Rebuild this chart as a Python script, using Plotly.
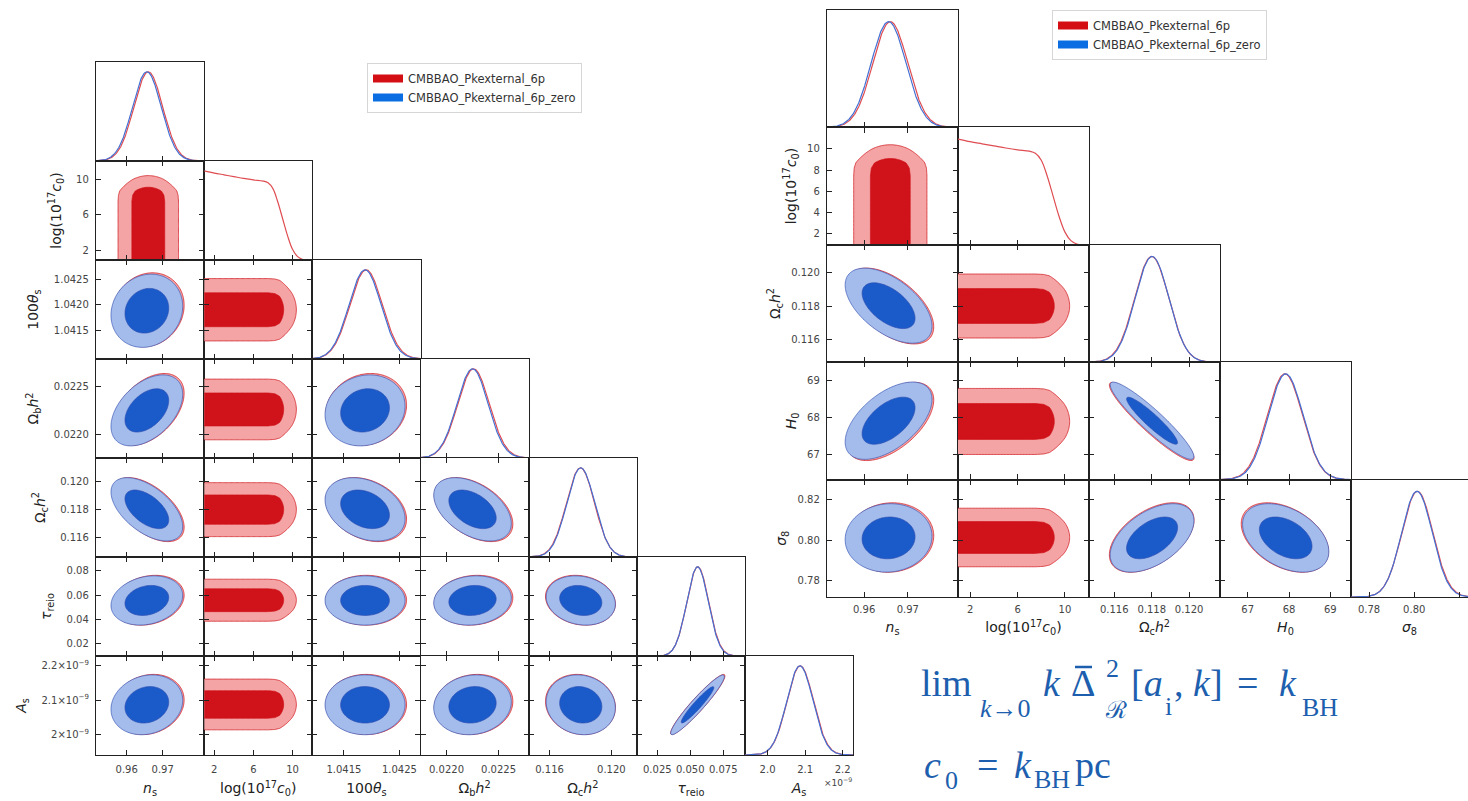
import numpy as np
import plotly.graph_objects as go

W, H = 1468, 801

# ---------------- data ----------------
PARAMS = ["ns", "c0", "theta", "ombh2", "omch2", "tau", "As", "H0", "sigma8"]

# posterior means / standard deviations, "CMBBAO_Pkexternal_6p_zero" (blue)
MEAN_ZERO = [0.9656, None, 1.04188, 0.02225, 0.11802, 0.0555, 2.086, 67.92, 0.8012]
SIGMA_ZERO = [0.0040, None, 0.00029, 0.00015, 0.00090, 0.0082, 0.035, 0.42, 0.0068]
# posterior means / standard deviations, "CMBBAO_Pkexternal_6p" (red)
MEAN_6P = [0.9660, None, 1.04190, 0.02226, 0.11800, 0.0557, 2.087, 67.90, 0.8014]
SIGMA_6P = [0.0040, None, 0.000293, 0.000152, 0.00091, 0.0083, 0.0352, 0.425, 0.0069]

# pairwise correlation coefficients (read from the tilt of the ellipses)
CORR_A = ["ns", "ns", "ns", "ns", "ns", "ns", "ns", "theta", "theta", "theta", "theta",
          "ombh2", "ombh2", "ombh2", "omch2", "omch2", "tau", "omch2", "omch2", "H0"]
CORR_B = ["theta", "ombh2", "omch2", "tau", "As", "H0", "sigma8", "ombh2", "omch2", "tau", "As",
          "omch2", "tau", "As", "tau", "As", "As", "H0", "sigma8", "sigma8"]
CORR_R = [0.12, 0.45, -0.55, 0.2, 0.15, 0.55, 0.05, 0.12, -0.3, 0.0, 0.0,
          -0.45, 0.1, 0.1, -0.15, -0.1, 0.95, -0.93, 0.5, -0.4]

# 1D posterior of log(10^17 c0) (red only)
C0_POINTS = [0.97, 2.0, 3.0, 4.0, 5.0, 6.0, 7.0, 7.5, 8.0, 8.5, 9.0, 9.5, 10.0, 10.5, 11.0, 11.5, 12.03]
C0_DENSITY = [1.0, 0.975, 0.955, 0.935, 0.915, 0.898, 0.885, 0.865, 0.80, 0.65, 0.46, 0.27, 0.12, 0.04,
              0.008, 0.0, 0.0]
# delta-chi2 profile along log(10^17 c0) that shapes the red 2D contours
C0_PEN_POINTS = [0.0, 7.5, 8.2, 8.7, 9.1, 9.6, 10.0, 10.4, 11.0, 12.1]
C0_PEN_VALUES = [0.0, 0.0, 0.12, 0.5, 1.3, 2.4, 3.3, 4.4, 6.5, 11.0]

LEGEND_NAMES = ["CMBBAO_Pkexternal_6p", "CMBBAO_Pkexternal_6p_zero"]

LEFT_PARAMS = ["ns", "c0", "theta", "ombh2", "omch2", "tau", "As"]
RIGHT_PARAMS = ["ns", "c0", "omch2", "H0", "sigma8"]

LABELS = {
    "ns": "<i>n</i><sub>s</sub>",
    "c0": "log(10<sup>17</sup><i>c</i><sub>0</sub>)",
    "theta": "100<i>θ</i><sub>s</sub>",
    "ombh2": "Ω<sub>b</sub><i>h</i><sup>2</sup>",
    "omch2": "Ω<sub>c</sub><i>h</i><sup>2</sup>",
    "tau": "<i>τ</i><sub>reio</sub>",
    "As": "<i>A</i><sub>s</sub>",
    "H0": "<i>H</i><sub>0</sub>",
    "sigma8": "<i>σ</i><sub>8</sub>",
}

LEFT_XTICKS = {
    "ns": [0.96, 0.97], "c0": [2, 6, 10], "theta": [1.0415, 1.0425],
    "ombh2": [0.0220, 0.0225], "omch2": [0.116, 0.120], "tau": [0.025, 0.050, 0.075],
    "As": [2.0, 2.1, 2.2],
}
LEFT_XTEXT = {
    "ns": ["0.96", "0.97"], "c0": ["2", "6", "10"], "theta": ["1.0415", "1.0425"],
    "ombh2": ["0.0220", "0.0225"], "omch2": ["0.116", "0.120"], "tau": ["0.025", "0.050", "0.075"],
    "As": ["2.0", "2.1", "2.2"],
}
LEFT_YTICKS = {
    "c0": [2, 6, 10], "theta": [1.0415, 1.0420, 1.0425], "ombh2": [0.0220, 0.0225],
    "omch2": [0.116, 0.118, 0.120], "tau": [0.02, 0.04, 0.06, 0.08], "As": [2.0, 2.1, 2.2],
}
LEFT_YTEXT = {
    "c0": ["2", "6", "10"], "theta": ["1.0415", "1.0420", "1.0425"], "ombh2": ["0.0220", "0.0225"],
    "omch2": ["0.116", "0.118", "0.120"], "tau": ["0.02", "0.04", "0.06", "0.08"],
    "As": ["2×10<sup>−9</sup>", "2.1×10<sup>−9</sup>", "2.2×10<sup>−9</sup>"],
}
RIGHT_XTICKS = {
    "ns": [0.96, 0.97], "c0": [2, 6, 10], "omch2": [0.116, 0.118, 0.120],
    "H0": [67, 68, 69], "sigma8": [0.78, 0.80, 0.82],
}
RIGHT_XTEXT = {
    "ns": ["0.96", "0.97"], "c0": ["2", "6", "10"], "omch2": ["0.116", "0.118", "0.120"],
    "H0": ["67", "68", "69"], "sigma8": ["0.78", "0.80", "0.82"],
}
RIGHT_YTICKS = {
    "c0": [2, 4, 6, 8, 10], "omch2": [0.116, 0.118, 0.120], "H0": [67, 68, 69],
    "sigma8": [0.78, 0.80, 0.82],
}
RIGHT_YTEXT = {
    "c0": ["2", "4", "6", "8", "10"], "omch2": ["0.116", "0.118", "0.120"], "H0": ["67", "68", "69"],
    "sigma8": ["0.78", "0.80", "0.82"],
}

# equation pieces (text only; placement below)
EQ1_TEXT = ["lim", "<i>k</i>→0", "<i>k</i>", "Δ", "2", "ℛ", "[<i>a</i>", "i", ", <i>k</i>]", "=",
            "<i>k</i>", "BH"]
EQ2_TEXT = ["<i>c</i>", "0", "=", "<i>k</i>", "BH", "pc"]

# ---------------- layout / style ----------------
RANGES = {
    "ns": [0.9515, 0.9815], "c0": [0.97, 12.03], "theta": [1.04093, 1.04288],
    "ombh2": [0.02175, 0.02279], "omch2": [0.11465, 0.12165], "tau": [0.0095, 0.0915],
    "As": [1.940, 2.228], "H0": [66.33, 69.50], "sigma8": [0.772, 0.830],
}
GAUSS_LEVELS = (2.30, 6.18)
C0_LEVELS = (1.3, 4.4)

RED_DARK, RED_LIGHT, RED_LINE = "#d0121a", "#f4a4a4", "#df4d52"
BLUE_DARK, BLUE_LIGHT, BLUE_LINE = "#1b5bc9", "#a3bcec", "#4470d4"
LEG_RED, LEG_BLUE = "#d40f14", "#0a6ee2"
AX_COLOR = "#222222"
TICK_FONT = dict(family="DejaVu Sans", size=10, color="#444444")
TITLE_FONT = dict(family="DejaVu Sans", size=14, color="#222222")
MATH_COLOR = "#1d5fae"

idx = {p: i for i, p in enumerate(PARAMS)}
corr = {}
for a, b, r in zip(CORR_A, CORR_B, CORR_R):
    corr[(a, b)] = r
    corr[(b, a)] = r

DATASETS = [
    dict(mean=MEAN_6P, sigma=SIGMA_6P, has_c0=True, dark=RED_DARK, light=RED_LIGHT, line=RED_LINE, edge=RED_DARK),
    dict(mean=MEAN_ZERO, sigma=SIGMA_ZERO, has_c0=False, dark=BLUE_DARK, light=BLUE_LIGHT, line=BLUE_LINE,
         edge="rgba(45,75,175,0.9)"),
]

fig = go.Figure()
counter = {"n": 0}

BASE_AX = dict(showline=True, linecolor=AX_COLOR, linewidth=1.3, ticks="inside", ticklen=5,
               tickwidth=1.1, tickcolor=AX_COLOR, showgrid=False, zeroline=False,
               tickfont=TICK_FONT, autorange=False, fixedrange=True)


def add_panel(xdom, ydom, xr, yr, diag, xt, xtt, yt, ytt, show_xl, show_yl, xtitle, ytitle, st):
    counter["n"] += 1
    n = counter["n"]
    s = "" if n == 1 else str(n)
    xa = dict(BASE_AX, domain=xdom, anchor="y" + s, range=xr, mirror=(True if diag else "ticks"),
              tickvals=xt, ticktext=xtt, showticklabels=show_xl, ticklabelstandoff=st["xl"])
    if xtitle:
        xa["title"] = dict(text=xtitle, font=TITLE_FONT, standoff=st["xt"])
    ya = dict(BASE_AX, domain=ydom, anchor="x" + s, range=yr, mirror=(True if diag else "ticks"),
              ticklabelstandoff=st["yl"])
    if diag or yt is None:
        ya.update(ticks="", tickvals=[], showticklabels=False)
    else:
        ya.update(tickvals=yt, ticktext=ytt, showticklabels=show_yl)
    if ytitle:
        ya["title"] = dict(text=ytitle, font=TITLE_FONT, standoff=st["yt"])
    fig.update_layout({"xaxis" + s: xa, "yaxis" + s: ya})
    return "x" + s, "y" + s


def add_contour(xa, ya, xs, ys, chi2, levels, ds):
    l1, l2 = levels
    fig.add_trace(go.Contour(
        x=xs, y=ys, z=np.round(-chi2, 4), xaxis=xa, yaxis=ya, autocontour=False,
        contours=dict(start=-l2, end=-l1, size=l2 - l1, coloring="fill", showlines=True),
        colorscale=[[0, "rgba(255,255,255,0)"], [0.5, ds["light"]], [1, ds["dark"]]],
        line=dict(color=ds["edge"], width=0.7, smoothing=1.0),
        showscale=False, hoverinfo="skip", showlegend=False))


def build_triangle(plist, x0, cw, y0, rh, xticks, xtext, yticks, ytext, st):
    n = len(plist)
    for i in range(n):
        for j in range(i + 1):
            pxn, pyn = plist[j], plist[i]
            left = x0 + j * cw
            right = min(left + cw, W)
            top = y0 + i * rh
            bottom = top + rh
            xr = list(RANGES[pxn])
            if right < left + cw:
                xr[1] = xr[0] + (xr[1] - xr[0]) * (right - left) / cw
            diag = (i == j)
            yr = [0, 1.11] if diag else list(RANGES[pyn])
            xa, ya = add_panel(
                [left / W, right / W], [1 - bottom / H, 1 - top / H], xr, yr, diag,
                xticks[pxn], xtext[pxn],
                None if diag else yticks[pyn], None if diag else ytext[pyn],
                i == n - 1, j == 0,
                LABELS[pxn] if i == n - 1 else None,
                LABELS[pyn] if (j == 0 and not diag) else None, st)
            if diag:
                if pxn == "c0":
                    fig.add_trace(go.Scatter(x=C0_POINTS, y=C0_DENSITY, mode="lines",
                                             line=dict(color=RED_LINE, width=1.2, shape="spline"),
                                             xaxis=xa, yaxis=ya, showlegend=False, hoverinfo="skip"))
                else:
                    xs = np.linspace(xr[0], xr[1], 300)
                    for ds in DATASETS:
                        m, s = ds["mean"][idx[pxn]], ds["sigma"][idx[pxn]]
                        fig.add_trace(go.Scatter(x=xs, y=np.exp(-0.5 * ((xs - m) / s) ** 2), mode="lines",
                                                 line=dict(color=ds["line"], width=1.2),
                                                 xaxis=xa, yaxis=ya, showlegend=False, hoverinfo="skip"))
            else:
                xs = np.linspace(xr[0], xr[1], 90)
                ys = np.linspace(yr[0], yr[1], 90)
                X, Y = np.meshgrid(xs, ys)
                for ds in DATASETS:
                    if "c0" in (pxn, pyn):
                        if not ds["has_c0"]:
                            continue
                        if pxn == "c0":
                            other, C0, V = pyn, X, Y
                        else:
                            other, C0, V = pxn, Y, X
                        m, s = ds["mean"][idx[other]], ds["sigma"][idx[other]]
                        chi2 = ((V - m) / s) ** 2 + np.interp(C0, C0_PEN_POINTS, C0_PEN_VALUES)
                        add_contour(xa, ya, xs, ys, chi2, C0_LEVELS, ds)
                    else:
                        mx, sx = ds["mean"][idx[pxn]], ds["sigma"][idx[pxn]]
                        my, sy = ds["mean"][idx[pyn]], ds["sigma"][idx[pyn]]
                        r = corr.get((pxn, pyn), 0.0)
                        dx, dy = (X - mx) / sx, (Y - my) / sy
                        chi2 = (dx ** 2 - 2 * r * dx * dy + dy ** 2) / (1 - r ** 2)
                        add_contour(xa, ya, xs, ys, chi2, GAUSS_LEVELS, ds)


build_triangle(LEFT_PARAMS, 96.0, 108.17, 62.0, 99.0, LEFT_XTICKS, LEFT_XTEXT, LEFT_YTICKS, LEFT_YTEXT,
               dict(xl=5, xt=9, yl=4, yt=11))
build_triangle(RIGHT_PARAMS, 827.0, 131.0, 10.0, 117.4, RIGHT_XTICKS, RIGHT_XTEXT, RIGHT_YTICKS, RIGHT_YTEXT,
               dict(xl=3, xt=8, yl=4, yt=7))

# legends
for lg in ["legend", "legend2"]:
    for name, col in zip(LEGEND_NAMES, [LEG_RED, LEG_BLUE]):
        fig.add_trace(go.Scatter(x=[None], y=[None], mode="lines", line=dict(color=col, width=8),
                                 name=name, legend=lg, showlegend=True, hoverinfo="skip"))

LEG_STYLE = dict(xanchor="left", yanchor="top", bgcolor="white", bordercolor="#d6d6d6", borderwidth=1,
                 font=dict(family="DejaVu Sans", size=11.5, color="#333333"), tracegroupgap=0,
                 itemwidth=30)

fig.update_layout(
    width=W, height=H, margin=dict(l=0, r=0, t=0, b=0),
    paper_bgcolor="white", plot_bgcolor="white", showlegend=True,
    legend=dict(LEG_STYLE, x=367 / W, y=1 - 63 / H),
    legend2=dict(LEG_STYLE, x=1052 / W, y=1 - 10 / H),
)

# x10^-9 offset label for A_s
fig.add_annotation(text="×10<sup>−9</sup>", x=838 / W, y=1 - 790 / H, xref="paper", yref="paper",
                   showarrow=False, font=dict(family="DejaVu Sans", size=9, color="#444444"))

# equations: each piece centred on its place in the picture
EQ1_X = [946, 1006, 1052, 1083, 1112, 1116, 1147, 1168, 1198, 1247, 1288, 1320]
EQ1_Y = [683, 708, 683, 683, 668, 710, 683, 706, 683, 683, 683, 707]
EQ1_S = [38, 26, 38, 38, 26, 24, 38, 26, 38, 38, 38, 26]
EQ2_X = [932, 951, 988, 1023, 1052, 1093]
EQ2_Y = [765, 780, 765, 765, 779, 765]
EQ2_S = [38, 26, 38, 38, 26, 38]
for texts, xs_, ys_, ss_ in [(EQ1_TEXT, EQ1_X, EQ1_Y, EQ1_S), (EQ2_TEXT, EQ2_X, EQ2_Y, EQ2_S)]:
    for t, x, y, s in zip(texts, xs_, ys_, ss_):
        fig.add_annotation(text=t, x=x / W, y=1 - y / H, xref="paper", yref="paper",
                           xanchor="center", yanchor="middle", showarrow=False,
                           font=dict(family="Liberation Serif", size=s, color=MATH_COLOR))
# bar over Delta
fig.add_shape(type="line", xref="paper", yref="paper", x0=1075 / W, x1=1092 / W,
              y0=1 - 667 / H, y1=1 - 667 / H, line=dict(color=MATH_COLOR, width=2.5))

fig.write_html("out.html", config={"displayModeBar": False},
               post_script="document.body.style.margin='0px';document.body.style.overflow='hidden';")
